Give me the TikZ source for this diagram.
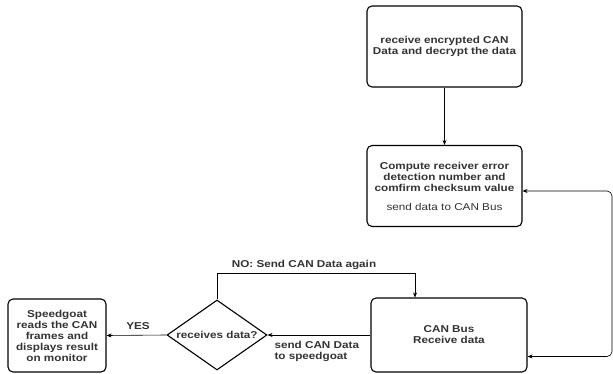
\documentclass[tikz,border=0pt]{standalone}
\usepackage{fontspec}
\setmainfont[FakeStretch=1.17]{Liberation Sans}
\usetikzlibrary{shapes.geometric,arrows.meta}
\definecolor{ink}{HTML}{333333}
\begin{document}
\begin{tikzpicture}[x=1pt,y=-1pt,
  font=\fontsize{10}{11}\selectfont\bfseries, text=ink,
  box/.style={draw, rounded corners=5pt, line width=1.1pt, align=center, inner sep=0pt},
  line/.style={-{Stealth[length=5pt,width=4pt]}, line width=0.6pt}]
\useasboundingbox (0,0) rectangle (613,374);
\node[box, minimum width=155pt, minimum height=81pt] (rx) at (444.5,46.5) {receive encrypted CAN\\Data and decrypt the data};
\node[box, minimum width=155pt, minimum height=81pt] (chk) at (444.5,186) {Compute receiver error\\detection number and\\comfirm checksum value\\[8pt]{\mdseries send data to CAN Bus}};
\node[box, minimum width=156pt, minimum height=74pt] (can) at (449,335) {CAN Bus\\Receive data};
\node[draw, diamond, aspect=1.43, line width=1.1pt, inner sep=0pt, minimum width=100pt, minimum height=70pt] (dia) at (217,335) {receives data?};
\node[box, minimum width=98pt, minimum height=73pt] (sg) at (57,335.5) {Speedgoat\\reads the CAN\\frames and\\displays result\\on monitor};
\coordinate (noturn) at (415,273);
\coordinate (edge1) at (612,191);
\coordinate (edge2) at (612,356.5);
\draw[line] (rx) -- (chk);
\draw[line] (dia.north) |- (noturn) -- (noturn |- can.north);
\node (nolabel) at (304,265) {NO: Send CAN Data again};
\draw[line] (can.west) -- (dia.east);
\node[anchor=west, align=left] (sendlabel) at (271,351) {send CAN Data\\to speedgoat};
\draw[line] (dia.west) -- (sg.east);
\node (yeslabel) at (138,326) {YES};
\draw[{Stealth[length=5pt,width=4pt]}-{Stealth[length=5pt,width=4pt]}, line width=0.6pt, rounded corners=5pt] (edge1 -| chk.east) -- (edge1) -- (edge2) -- (edge2 -| can.east);
\end{tikzpicture}
\end{document}
